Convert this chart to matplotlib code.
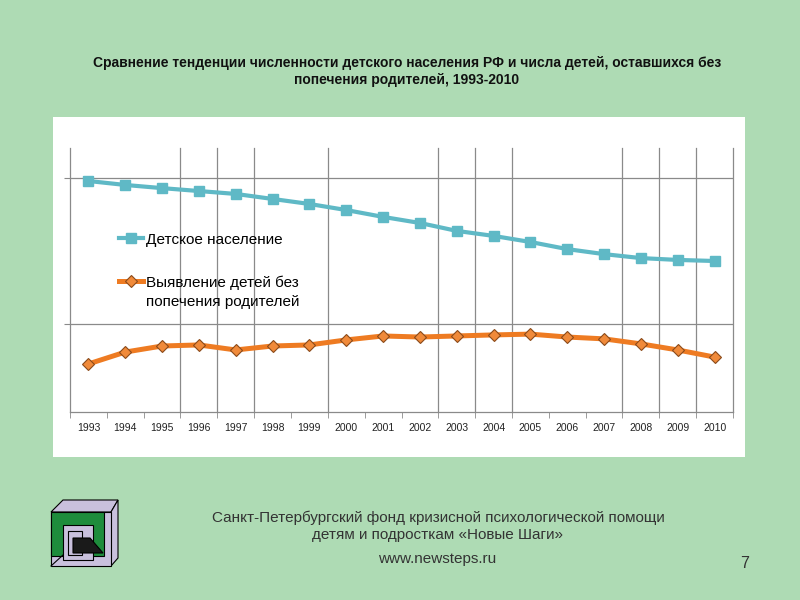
import matplotlib
matplotlib.use("Agg")
import matplotlib.pyplot as plt
from matplotlib.patches import Rectangle, Polygon
from matplotlib.ticker import FixedLocator

# data (relative level: 0 = x axis, 100 = top of plot)
years = [str(y) for y in range(1993, 2011)]
children = [87.5, 86.0, 84.8, 83.7, 82.6, 80.7, 78.8, 76.5, 73.9,
            71.6, 68.6, 66.7, 64.4, 61.7, 59.8, 58.3, 57.6, 57.2]
no_care = [18.2, 22.7, 25.0, 25.4, 23.5, 25.0, 25.4, 27.3, 28.8,
           28.4, 28.8, 29.2, 29.5, 28.4, 27.7, 25.8, 23.5, 20.8]
label_children = "Детское население"
label_no_care = "Выявление детей без\nпопечения родителей"
hgrid = [33.3, 88.6]
vgrid = [2.5, 3.5, 4.5, 6.5, 9.5, 10.5, 11.5, 14.5, 15.5, 16.5, 17.5]

title = ("Сравнение тенденции численности детского населения РФ и числа детей, оставшихся без\n"
         "попечения родителей, 1993-2010")

bg = "#AEDBB4"
fig = plt.figure(figsize=(8, 6), dpi=100, facecolor=bg)

# white chart panel
fig.patches.append(Rectangle((53 / 800, 1 - 457 / 600), 692 / 800, 340 / 600,
                             transform=fig.transFigure, facecolor="white",
                             edgecolor="none", zorder=-5))

ax = fig.add_axes([70 / 800, 1 - 412 / 600, 663 / 800, 264 / 600])
ax.set_facecolor("white")
x = range(len(years))

ax.plot(x, children, color="#5FB9C6", lw=3, marker="s", ms=7.5,
        mfc="#5FB9C6", mec="#5FB9C6", label=label_children, zorder=3)
ax.plot(x, no_care, color="#EE7B22", lw=3.6, marker="D", ms=6.5,
        mfc="#F08A3A", mec="#8B4A1A", mew=0.8, label=label_no_care, zorder=3)

ax.set_xlim(-0.5, 17.5)
ax.set_ylim(0, 100)
for g in hgrid:
    ax.axhline(g, color="#8A8A8A", lw=0.9, zorder=1)
for g in vgrid:
    ax.axvline(g, color="#8A8A8A", lw=0.9, zorder=1, clip_on=False)

ax.set_xticks(list(x))
ax.set_xticklabels(years, fontsize=7.5, color="#222222",
                   family=["Liberation Sans Narrow", "Liberation Sans"])
ax.tick_params(axis="x", length=0, pad=8)
ax.xaxis.set_minor_locator(FixedLocator([i - 0.5 for i in range(19)]))
ax.tick_params(axis="x", which="minor", length=4, color="#8A8A8A")
ax.set_yticks(hgrid)
ax.set_yticklabels([])
ax.tick_params(axis="y", length=4, color="#8A8A8A")
for s in ["top", "right"]:
    ax.spines[s].set_visible(False)
for s in ["left", "bottom"]:
    ax.spines[s].set_color("#8A8A8A")
    ax.spines[s].set_linewidth(0.9)

leg = ax.legend(loc="upper left", bbox_to_anchor=(119 / 800, 1 - 233 / 600),
                bbox_transform=fig.transFigure, frameon=False,
                prop={"family": ["Liberation Sans", "DejaVu Sans"], "size": 11},
                handlelength=1.6, handletextpad=0.15, labelspacing=1.85,
                borderpad=0, borderaxespad=0)
# put the handle next to the first line of a two-line label
for row in leg._legend_handle_box.get_children():
    for entry in row.get_children():
        entry.align = "top"
for t in leg.get_texts():
    t.set_linespacing(1.45)

fig.text(407 / 800, 1 - 71.5 / 600, title, ha="center", va="center",
         fontsize=10, fontweight="bold", color="#111111", linespacing=1.35,
         family=["Liberation Sans", "DejaVu Sans"])

foot = "Санкт-Петербургский фонд кризисной психологической помощи\nдетям и подросткам «Новые Шаги»"
fig.text(438 / 800, 1 - 526.5 / 600, foot, ha="center", va="center",
         fontsize=11, color="#333333", linespacing=1.3,
         family=["Liberation Sans", "DejaVu Sans"])
fig.text(437 / 800, 1 - 559 / 600, "www.newsteps.ru", ha="center", va="center",
         fontsize=11, color="#333333", family=["Liberation Sans", "DejaVu Sans"])
fig.text(745 / 800, 1 - 563 / 600, "7", ha="center", va="center",
         fontsize=11.5, color="#333333", family=["Liberation Sans", "DejaVu Sans"])

# logo, drawn in pixel coordinates
lg = fig.add_axes([0, 0, 1, 1], facecolor="none")
lg.set_xlim(0, 800)
lg.set_ylim(600, 0)
lg.axis("off")
lav = "#C9C0DD"
shapes = [
    ([(51, 512), (63, 500), (118, 500), (111, 512)], lav),
    ([(111, 512), (118, 500), (118, 558), (111, 566)], lav),
    ([(51, 512), (111, 512), (111, 566), (51, 566)], lav),
    ([(51, 512), (104, 512), (104, 556), (51, 556)], "#1E8C3C"),
    ([(63, 525), (93, 525), (93, 560), (63, 560)], lav),
    ([(68, 531), (82, 531), (82, 555), (68, 555)], lav),
    ([(73, 538), (90, 538), (103, 553), (73, 553)], "#1A1A1A"),
]
for pts, col in shapes:
    lg.add_patch(Polygon(pts, closed=True, facecolor=col, edgecolor="black", lw=0.8))
lg.plot([51, 63], [566, 555], color="black", lw=0.8)

fig.savefig("out.png", dpi=100, facecolor=bg)
